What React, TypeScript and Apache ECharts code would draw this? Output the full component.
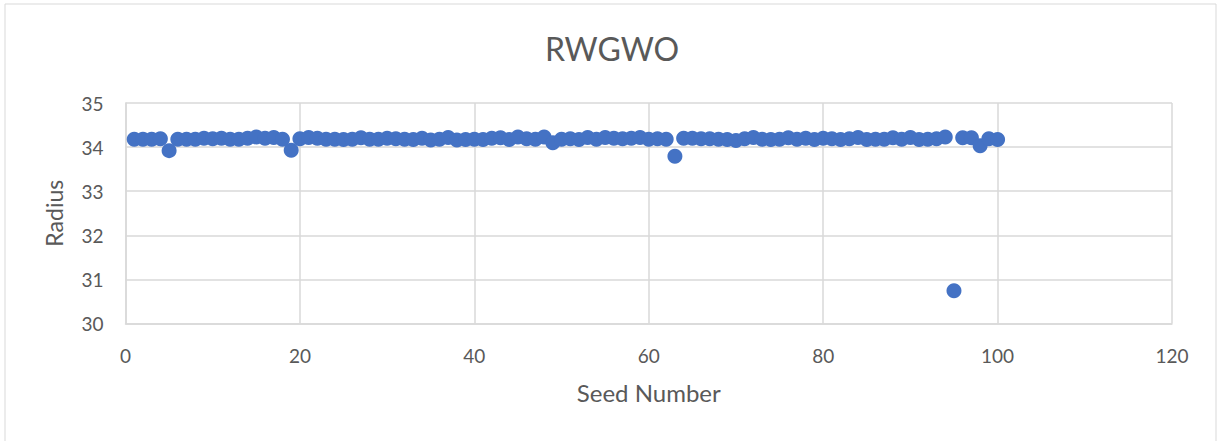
import React, { useEffect, useRef } from "react";
import * as echarts from "echarts";

const seeds: number[] = Array.from({ length: 100 }, (_, i) => i + 1);
const radius: number[] = [
  34.18, 34.18, 34.18, 34.19, 33.92, 34.18, 34.18, 34.18, 34.2, 34.19,
  34.2, 34.18, 34.18, 34.2, 34.23, 34.2, 34.22, 34.18, 33.93, 34.19,
  34.22, 34.2, 34.18, 34.18, 34.17, 34.18, 34.21, 34.18, 34.18, 34.2,
  34.19, 34.18, 34.17, 34.2, 34.16, 34.18, 34.22, 34.16, 34.17, 34.18,
  34.17, 34.2, 34.21, 34.17, 34.23, 34.19, 34.18, 34.23, 34.1, 34.18,
  34.19, 34.17, 34.22, 34.18, 34.22, 34.2, 34.19, 34.2, 34.22, 34.18,
  34.19, 34.18, 33.79, 34.2, 34.2, 34.19, 34.19, 34.18, 34.17, 34.15,
  34.19, 34.22, 34.18, 34.17, 34.18, 34.21, 34.18, 34.2, 34.17, 34.2,
  34.19, 34.17, 34.19, 34.22, 34.17, 34.18, 34.18, 34.21, 34.18, 34.22,
  34.17, 34.18, 34.19, 34.23, 30.74, 34.21, 34.21, 34.03, 34.19, 34.17,
];
const xTicks = { min: 0, max: 120, interval: 20 };
const yTicks = { min: 30, max: 35, interval: 1 };

const FONT = "Lato, 'Open Sans', sans-serif";
const TEXT = "#595959";
const GRID = "#d9d9d9";

export default function App() {
  const ref = useRef<HTMLDivElement>(null);
  useEffect(() => {
    if (!ref.current) return;
    const chart = echarts.init(ref.current, undefined, { renderer: "svg" });
    chart.setOption({
      animation: false,
      backgroundColor: "#ffffff",
      title: {
        text: "RWGWO",
        left: "center",
        top: 27,
        textStyle: { fontFamily: FONT, fontSize: 32, fontWeight: "normal", color: TEXT },
      },
      graphic: [
        {
          type: "rect",
          shape: { x: 5, y: 4, width: 1211, height: 440 },
          style: { fill: "none", stroke: GRID, lineWidth: 1 },
          silent: true,
        },
      ],
      grid: { left: 125.5, right: 52, top: 103, bottom: 117.5 },
      xAxis: {
        type: "value",
        min: xTicks.min,
        max: xTicks.max,
        interval: xTicks.interval,
        name: "Seed Number",
        nameLocation: "middle",
        nameGap: 57,
        nameTextStyle: { fontFamily: FONT, fontSize: 24, color: TEXT },
        axisLine: { show: true, lineStyle: { color: GRID, width: 1.5 } },
        axisTick: { show: false },
        axisLabel: { fontFamily: FONT, fontSize: 19, color: TEXT, margin: 22 },
        splitLine: { show: true, lineStyle: { color: GRID, width: 1.5 } },
      },
      yAxis: {
        type: "value",
        min: yTicks.min,
        max: yTicks.max,
        interval: yTicks.interval,
        name: "Radius",
        nameLocation: "middle",
        nameGap: 60,
        nameTextStyle: { fontFamily: FONT, fontSize: 23, color: TEXT },
        axisLine: { show: true, lineStyle: { color: GRID, width: 1.5 } },
        axisTick: { show: false },
        axisLabel: { fontFamily: FONT, fontSize: 19, color: TEXT, margin: 22 },
        splitLine: { show: true, lineStyle: { color: GRID, width: 1.5 } },
      },
      series: [
        {
          type: "scatter",
          data: seeds.map((s, i) => [s, radius[i]]),
          symbol: "circle",
          symbolSize: 15,
          itemStyle: { color: "#4472C4", opacity: 1 },
        },
      ],
    });
    return () => chart.dispose();
  }, []);
  return (
    <div
      ref={ref}
      style={{ position: "absolute", left: 0, top: 0, width: 1224, height: 441 }}
    />
  );
}
